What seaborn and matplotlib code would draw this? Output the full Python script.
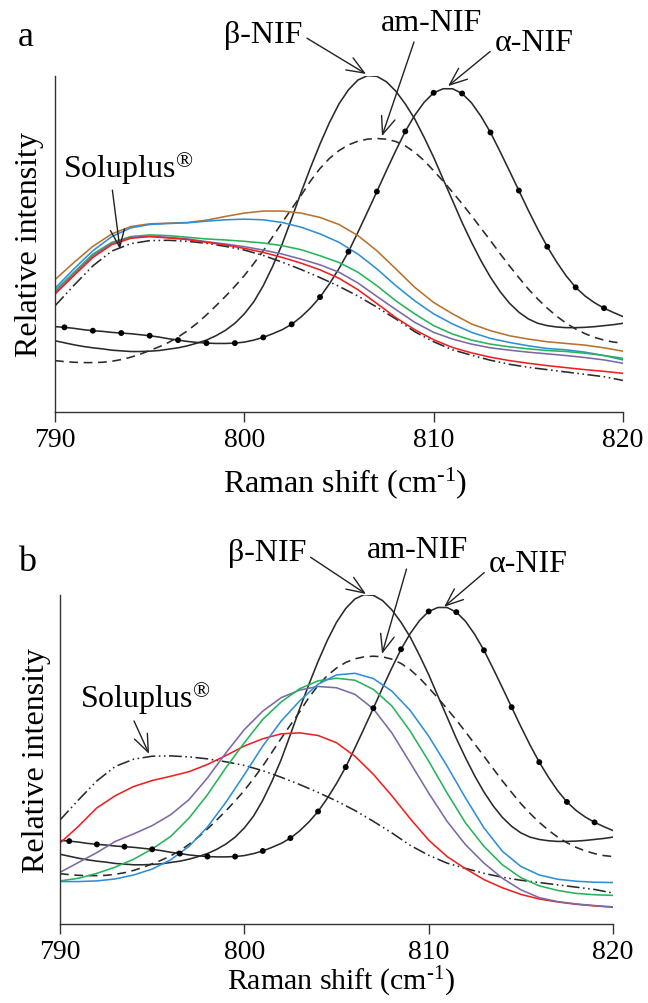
import numpy as np
import matplotlib
matplotlib.use("Agg")
import matplotlib.pyplot as plt
import seaborn as sns

# ---------------- data (Raman shift, cm-1; relative intensity, arbitrary units) ----------------
x_fine = np.arange(790, 820.01, 0.5)     # sampling grid for the crystalline/amorphous references
x_coarse = np.arange(790, 821, 1.0)      # sampling grid for Soluplus and the dispersions

beta_nif = [21.2, 20.6, 20.0, 19.5, 19.1, 18.8, 18.4, 18.2, 18.0, 18.0,
            18.1, 18.3, 18.7, 19.1, 19.7, 20.5, 21.4, 22.7, 24.3, 26.4,
            29.2, 32.8, 37.6, 43.4, 50.0, 57.6, 65.4, 72.8, 79.8, 86.2,
            91.7, 95.9, 98.8, 100.1, 99.9, 98.3, 95.5, 91.7, 87.2, 81.7,
            75.8, 69.3, 62.9, 56.4, 50.5, 45.0, 40.1, 35.9, 32.4, 29.7,
            27.7, 26.4, 25.7, 25.3, 25.1, 25.1, 25.2, 25.4, 25.7, 26.0, 26.4]

alpha_nif = [25.4, 25.2, 24.9, 24.5, 24.2, 24.0, 23.7, 23.5, 23.3, 23.0,
             22.7, 22.3, 21.8, 21.4, 21.0, 20.7, 20.5, 20.4, 20.4, 20.5,
             20.8, 21.4, 22.2, 23.3, 24.5, 26.1, 28.3, 31.0, 34.2, 38.2,
             42.7, 47.7, 53.5, 59.5, 65.6, 71.8, 77.8, 83.5, 88.3, 92.2,
             95.0, 96.2, 96.2, 94.8, 92.0, 88.0, 83.2, 77.6, 71.8, 65.9,
             60.0, 54.4, 49.2, 44.6, 40.5, 37.1, 34.5, 32.5, 30.9, 29.6, 28.4]

am_nif = [15.3, 15.0, 14.8, 14.7, 14.7, 14.8, 15.1, 15.6, 16.3, 17.2,
          18.3, 19.4, 20.7, 22.3, 24.2, 26.4, 28.9, 31.6, 34.4, 37.4,
          40.6, 44.2, 48.0, 52.2, 56.4, 60.5, 64.5, 68.8, 72.5, 75.5,
          77.8, 79.5, 80.6, 81.2, 81.4, 81.2, 80.5, 79.2, 77.3, 74.8,
          71.8, 68.7, 65.4, 62.0, 58.4, 54.7, 51.0, 47.2, 43.5, 40.0,
          36.6, 33.6, 30.9, 28.5, 26.4, 24.7, 23.3, 22.2, 21.4, 20.8, 20.5]

soluplus = [31.6, 37.7, 43.5, 47.9, 50.1, 51.0, 51.1, 50.8, 50.2, 49.3,
            48.2, 46.6, 44.6, 42.4, 40.0, 37.4, 34.5, 31.2, 27.7, 23.9,
            20.9, 18.5, 16.9, 15.4, 14.2, 13.3, 12.6, 11.9, 11.2, 10.5, 9.4]

# panel a dispersions
brown_a = [39.4, 44.5, 49.3, 53.0, 55.2, 56.0, 56.2, 56.4, 57.1, 58.2,
           59.2, 59.8, 59.8, 59.2, 57.9, 55.8, 52.5, 48.0, 42.6, 37.1,
           32.6, 29.2, 26.2, 24.2, 22.7, 21.7, 20.9, 20.4, 19.9, 19.1, 18.1]
blue_a = [36.8, 42.6, 48.0, 52.2, 54.8, 55.8, 56.1, 56.3, 56.8, 57.2,
          57.4, 57.2, 56.4, 55.0, 53.0, 50.5, 47.0, 42.6, 37.6, 33.1,
          29.2, 26.2, 23.7, 21.9, 20.7, 19.7, 18.9, 18.5, 17.8, 16.8, 15.5]
green_a = [36.1, 41.6, 47.0, 50.5, 52.2, 52.7, 52.5, 52.0, 51.5, 51.2,
           50.8, 50.3, 49.5, 48.3, 46.5, 44.5, 41.6, 37.6, 33.1, 29.2,
           25.7, 23.2, 21.4, 20.2, 19.4, 18.8, 18.3, 18.0, 17.5, 16.8, 16.0]
purple_a = [35.6, 41.1, 46.5, 50.2, 52.0, 52.3, 52.0, 51.5, 50.7, 50.0,
            49.2, 48.2, 47.0, 45.5, 43.8, 41.6, 38.4, 34.4, 30.5, 26.7,
            23.7, 21.7, 20.2, 19.1, 18.4, 17.8, 17.3, 16.8, 16.2, 15.5, 14.5]
red_a = [35.1, 40.6, 46.0, 49.8, 51.7, 52.2, 51.8, 51.3, 50.5, 49.7,
         48.7, 47.5, 46.0, 44.3, 42.3, 39.8, 36.4, 32.3, 28.1, 24.5,
         21.5, 19.2, 17.6, 16.3, 15.3, 14.5, 13.8, 13.2, 12.6, 12.1, 11.5]

# panel b dispersions
red_b = [24.6, 29.7, 35.3, 39.0, 41.8, 43.6, 44.9, 46.3, 48.5, 51.2,
         54.1, 56.3, 57.8, 58.1, 57.3, 55.1, 51.0, 45.5, 39.0, 32.0,
         25.5, 20.5, 16.8, 13.5, 11.0, 9.0, 7.6, 6.7, 6.0, 5.5, 5.1]
purple_b = [15.7, 18.7, 21.7, 25.1, 27.4, 29.9, 33.2, 37.8, 44.4, 52.0,
            59.1, 64.7, 68.8, 71.1, 72.2, 71.8, 69.8, 65.4, 58.1, 49.0,
            39.8, 31.2, 24.1, 18.5, 13.9, 10.4, 8.0, 6.8, 6.1, 5.6, 5.2]
green_b = [13.1, 13.9, 15.4, 17.3, 19.7, 22.8, 26.6, 32.2, 39.3, 47.5,
           55.1, 62.2, 67.5, 71.5, 73.9, 74.7, 74.1, 71.3, 66.3, 58.6,
           49.5, 39.8, 30.7, 23.6, 18.0, 14.1, 11.6, 10.2, 9.3, 8.9, 8.7]
blue_b = [12.9, 12.9, 13.1, 13.7, 14.9, 16.7, 19.5, 23.6, 29.5, 37.0,
          45.4, 54.1, 61.7, 67.8, 72.9, 75.7, 76.2, 74.6, 70.8, 64.9,
          57.1, 48.0, 38.3, 29.2, 22.1, 17.5, 14.9, 13.6, 13.0, 12.7, 12.6]

x_ticks = [790, 800, 810, 820]

# ---------------- style ----------------
sns.set_theme(style="ticks")
plt.rcParams["font.family"] = ["Liberation Serif", "DejaVu Serif"]
plt.rcParams["mathtext.fontset"] = "custom"
plt.rcParams["mathtext.rm"] = "Liberation Serif"
plt.rcParams["mathtext.it"] = "Liberation Serif:italic"

K = "#2a2a2a"
LW = 1.15
C_BROWN = "#b8722e"
C_BLUE = "#2f8fd6"
C_GREEN = "#27b35a"
C_PURPLE = "#7d68a6"
C_RED = "#f02020"
DASH = (0, (5.5, 3.5))
DASHDOTDOT = (0, (8, 2.2, 1, 2.2, 1, 2.2))
XLABEL = r"Raman shift (cm$^{\text{-1}}$)"

fig = plt.figure(figsize=(6.48, 10.04), dpi=100)
ax_a = fig.add_axes([55 / 648, 1 - 413 / 1004, 568 / 648, 336 / 1004])
ax_b = fig.add_axes([60 / 648, 1 - 925 / 1004, 553 / 648, 329 / 1004])


def draw_refs(ax):
    sns.lineplot(x=x_coarse, y=soluplus, ax=ax, color=K, lw=LW, linestyle=DASHDOTDOT)
    sns.lineplot(x=x_fine, y=am_nif, ax=ax, color=K, lw=LW, linestyle=DASH)
    sns.lineplot(x=x_fine, y=beta_nif, ax=ax, color=K, lw=LW)
    sns.lineplot(x=x_fine, y=alpha_nif, ax=ax, color=K, lw=LW)
    xa = np.asarray(x_fine)[1::3]
    ya = np.asarray(alpha_nif)[1::3]
    sns.scatterplot(x=xa, y=ya, ax=ax, color="black", s=18, edgecolor="none", zorder=5)


def style_axes(ax, ylab_x, xlab_x, xlab_y, xlab_size):
    ax.set_xlim(790, 820)
    ax.set_ylim(0, 100)
    ax.set_xticks(x_ticks)
    ax.set_xticklabels([str(t) for t in x_ticks])
    ax.set_yticks([])
    sns.despine(ax=ax)
    for s in ("left", "bottom"):
        ax.spines[s].set_linewidth(1.0)
        ax.spines[s].set_color("#333333")
    ax.tick_params(axis="x", direction="out", length=7, width=1.0, color="#333333",
                   labelsize=20, pad=4, labelcolor="black")
    ax.set_xlabel(XLABEL, fontsize=xlab_size, color="black")
    ax.set_ylabel("Relative intensity", fontsize=23, color="black")
    ax.yaxis.set_label_coords(ylab_x, 0.5)
    ax.xaxis.set_label_coords(xlab_x, xlab_y)


def arrow_props(relpos):
    return dict(arrowstyle="->,head_length=0.55,head_width=0.22", color="#222222",
                lw=1.0, shrinkA=1, shrinkB=0, relpos=relpos)


def annotate_panel(ax, pos):
    for label, tip, txt, rel in pos:
        ax.annotate(label, xy=tip, xytext=txt, textcoords="data", ha="center", va="center",
                    fontsize=23, color="black", arrowprops=arrow_props(rel),
                    annotation_clip=False)


# ---------------- panel a ----------------
draw_refs(ax_a)
for vals, col in [(brown_a, C_BROWN), (blue_a, C_BLUE), (green_a, C_GREEN),
                  (purple_a, C_PURPLE), (red_a, C_RED)]:
    sns.lineplot(x=x_coarse, y=vals, ax=ax_a, color=col, lw=LW)
style_axes(ax_a, -0.019, 0.51, -0.155, 23)
annotate_panel(ax_a, [
    ("β-NIF", (806.43, 100.6), (801.0, 112.5), (1.0, 0.45)),
    ("am-NIF", (807.27, 82.1), (809.9, 115.8), (0.34, 0.0)),
    ("α-NIF", (810.76, 97.0), (815.3, 110.1), (0.0, 0.3)),
    ("Soluplus$^{\\mathregular{®}}$", (793.43, 48.5), (793.86, 72.9), (0.375, 0.0)),
])

# ---------------- panel b ----------------
draw_refs(ax_b)
for vals, col in [(red_b, C_RED), (purple_b, C_PURPLE), (green_b, C_GREEN), (blue_b, C_BLUE)]:
    sns.lineplot(x=x_coarse, y=vals, ax=ax_b, color=col, lw=LW)
style_axes(ax_b, -0.016, 0.508, -0.122, 21.5)
annotate_panel(ax_b, [
    ("β-NIF", (806.6, 100.3), (801.23, 112.8), (1.0, 0.45)),
    ("am-NIF", (807.47, 82.1), (809.42, 113.7), (0.4, 0.0)),
    ("α-NIF", (810.84, 96.4), (815.39, 109.7), (0.0, 0.3)),
    ("Soluplus$^{\\mathregular{®}}$", (794.83, 51.7), (794.61, 68.7), (0.4, 0.0)),
])

fig.text(26 / 648, 1 - 37 / 1004, "a", fontsize=26, ha="center", va="center", color="black")
fig.text(27 / 648, 1 - 563 / 1004, "b", fontsize=26, ha="center", va="center", color="black")

fig.savefig("out.png", dpi=100)
